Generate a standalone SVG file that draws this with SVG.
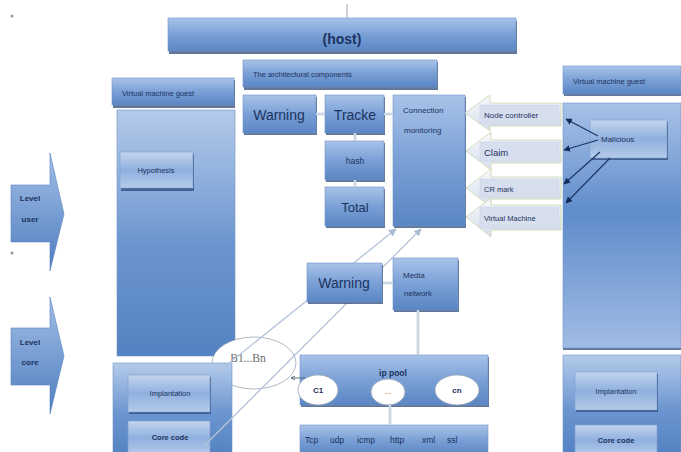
<svg xmlns="http://www.w3.org/2000/svg" width="681" height="452" viewBox="0 0 681 452">
<defs>
<linearGradient id="gBox" x1="0" y1="0" x2="0" y2="1">
<stop offset="0" stop-color="#a9c3e8"/><stop offset="0.5" stop-color="#7aa0d6"/><stop offset="1" stop-color="#5a86c4"/>
</linearGradient>
<linearGradient id="gTallL" x1="0" y1="0" x2="0" y2="1">
<stop offset="0" stop-color="#b4cbea"/><stop offset="0.55" stop-color="#6b95cf"/><stop offset="1" stop-color="#5482c2"/>
</linearGradient>
<linearGradient id="gTallR" x1="0" y1="0" x2="0" y2="1">
<stop offset="0" stop-color="#a8c2e7"/><stop offset="0.45" stop-color="#5f8ccb"/><stop offset="1" stop-color="#a1bce4"/>
</linearGradient>
<linearGradient id="gInner" x1="0" y1="0" x2="0" y2="1">
<stop offset="0" stop-color="#c3d5ee"/><stop offset="0.5" stop-color="#8fb0de"/><stop offset="1" stop-color="#b5cbea"/>
</linearGradient>
<linearGradient id="gPale" x1="0" y1="0" x2="0" y2="1">
<stop offset="0" stop-color="#f6f8fb"/><stop offset="1" stop-color="#d6dfed"/>
</linearGradient>
<linearGradient id="gLevel" x1="0" y1="0" x2="0" y2="1">
<stop offset="0" stop-color="#a2bfe6"/><stop offset="1" stop-color="#4f7ec0"/>
</linearGradient>
<marker id="mDark" viewBox="0 0 10 10" refX="9" refY="5" markerWidth="6" markerHeight="6" orient="auto">
<path d="M0,0 L10,5 L0,10 z" fill="#132b57"/>
</marker>
<marker id="mPale" viewBox="0 0 10 10" refX="9" refY="5" markerWidth="6" markerHeight="6" orient="auto">
<path d="M0,0 L10,5 L0,10 z" fill="#a9bcd6"/>
</marker>
<marker id="mGrey" viewBox="0 0 10 10" refX="9" refY="5" markerWidth="6" markerHeight="6" orient="auto">
<path d="M0,1 L10,5 L0,9" fill="none" stroke="#3c4c66" stroke-width="1.5"/>
</marker>
</defs>
<style>
.box{fill:url(#gBox);stroke:#6f93c7;stroke-width:0.6}
.tallL{fill:url(#gTallL);stroke:#6f93c7;stroke-width:0.6}
.tallR{fill:url(#gTallR);stroke:#6f93c7;stroke-width:0.6}
.inner{fill:url(#gInner);stroke:#7f9fcf;stroke-width:0.6}
.shadow{fill:#2e4a78;opacity:0.75}
.pale{fill:url(#gPale);stroke:#c9d8a8;stroke-width:0.8}
.paleLbl{fill:#d7deee;stroke:#c6cfe3;stroke-width:0.5}
.level{fill:url(#gLevel);stroke:#5a84c0;stroke-width:0.6}
.ell{fill:#ffffff;stroke:#9aa7b8;stroke-width:0.8}
.t{font-family:"Liberation Sans",Arial,sans-serif;fill:#1c3360}
.c{text-anchor:middle}
.b{font-weight:bold}
.link{stroke:#b7c6db;stroke-width:2.5;fill:none}
.linkIn{stroke:#eef2f8;stroke-width:0.8;fill:none}
.diag{stroke:#b3c3d9;stroke-width:1.3;fill:none}
.dark{stroke:#1a3466;stroke-width:1.1;fill:none}
</style>

<circle cx="12" cy="16" r="1.5" fill="#9a9a9a"/>
<circle cx="12" cy="253" r="1.5" fill="#9a9a9a"/>
<line x1="347" y1="4" x2="347" y2="18" stroke="#9aa4b4" stroke-width="1"/>

<g id="host">
<rect class="shadow" x="169" y="21" width="348" height="33"/>
<rect class="box" x="168" y="18" width="348" height="33"/>
<text class="t c b" x="342" y="44" font-size="14">(host)</text>
</g>

<g id="arch">
<rect class="shadow" x="244" y="62" width="194" height="28"/>
<rect class="box" x="243" y="60" width="194" height="27"/>
<text class="t" x="253" y="77" font-size="7.5">The architectural components</text>
</g>

<g id="vmguest-left">
<rect class="shadow" x="113" y="80" width="122" height="28"/>
<rect class="box" x="112" y="78" width="122" height="27"/>
<text class="t" x="122" y="96" font-size="7.5">Virtual machine guest</text>
</g>

<g id="vm-left">
<rect class="tallL" x="117" y="110" width="118" height="246"/>
<rect class="shadow" x="121" y="154" width="73" height="37"/>
<rect class="inner" x="120" y="152" width="73" height="36"/>
<text class="t c" x="156" y="173" font-size="7.5">Hypothesis</text>
</g>

<g id="warning1">
<rect class="shadow" x="244" y="97" width="73" height="38"/>
<rect class="box" x="243" y="95" width="73" height="38"/>
<text class="t c" x="279" y="120" font-size="14">Warning</text>
</g>

<g id="tracke">
<rect class="shadow" x="326" y="97" width="59" height="38"/>
<rect class="box" x="325" y="95" width="59" height="38"/>
<text class="t c" x="355" y="120" font-size="14">Tracke</text>
</g>

<g id="hash">
<rect class="shadow" x="326" y="143" width="59" height="39"/>
<rect class="box" x="325" y="141" width="59" height="39"/>
<text class="t c" x="355" y="164" font-size="8.5">hash</text>
</g>

<g id="total">
<rect class="shadow" x="326" y="189" width="59" height="39"/>
<rect class="box" x="325" y="187" width="59" height="39"/>
<text class="t c" x="355" y="212" font-size="13">Total</text>
</g>

<g id="monitoring">
<rect class="shadow" x="394" y="97" width="72" height="131"/>
<rect class="box" x="393" y="95" width="72" height="131"/>
<text class="t" x="403" y="113" font-size="8">Connection</text>
<text class="t" x="404" y="133" font-size="8">monitoring</text>
</g>

<g id="node-controller">
<polygon class="pale" points="465,113 490,95 490,103 561,103 561,126 490,126 490,131"/>
<rect class="paleLbl" x="480" y="105" width="79" height="19"/>
<text class="t" x="484" y="118" font-size="8">Node controller</text>
</g>

<g id="claim">
<polygon class="pale" points="466,151 491,132 491,140 561,140 561,163 491,163 491,170"/>
<rect class="paleLbl" x="480" y="142" width="79" height="19"/>
<text class="t" x="484" y="156" font-size="9.5">Claim</text>
</g>

<g id="cr-mark">
<polygon class="pale" points="466,188 491,169 491,177 561,177 561,199 491,199 491,207"/>
<rect class="paleLbl" x="480" y="179" width="79" height="18"/>
<text class="t" x="484" y="192" font-size="7.5">CR mark</text>
</g>

<g id="virtual-machine">
<polygon class="pale" points="466,217 491,198 491,205 561,205 561,230 491,230 491,237"/>
<rect class="paleLbl" x="480" y="207" width="79" height="21"/>
<text class="t" x="484" y="221" font-size="7.5">Virtual Machine</text>
</g>

<g id="vmguest-right">
<rect class="shadow" x="564" y="68" width="117" height="28"/>
<rect class="box" x="563" y="66" width="118" height="28"/>
<text class="t" x="573" y="84" font-size="7.5">Virtual machine guest</text>
</g>

<g id="vm-right">
<rect class="shadow" x="563" y="105" width="118" height="245"/>
<rect class="tallR" x="563" y="103" width="118" height="245"/>
<rect class="shadow" x="591" y="122" width="77" height="38"/>
<rect class="inner" x="590" y="120" width="77" height="38"/>
<text class="t" x="601" y="142" font-size="8">Malicious</text>
</g>

<g id="level-user">
<polygon class="level" points="11,185 50,185 50,153 64,214 50,271 50,242 11,242"/>
<text class="t c b" x="30" y="201" font-size="8">Level</text>
<text class="t c b" x="30" y="222" font-size="8">user</text>
</g>

<g id="level-core">
<polygon class="level" points="11,328 50,328 50,297 64,356 50,414 50,385 11,385"/>
<text class="t c b" x="30" y="345" font-size="8">Level</text>
<text class="t c b" x="30" y="365" font-size="8">core</text>
</g>

<g id="media-network">
<rect class="shadow" x="394" y="260" width="65" height="52"/>
<rect class="box" x="393" y="258" width="65" height="52"/>
<text class="t" x="403" y="278" font-size="8">Media</text>
<text class="t" x="404" y="296" font-size="8">network</text>
</g>

<g id="ip-pool">
<rect class="shadow" x="301" y="357" width="188" height="50"/>
<rect class="box" x="300" y="355" width="188" height="50"/>
<text class="t c b" x="393" y="376" font-size="8.5">ip pool</text>
<ellipse class="ell" cx="318" cy="390" rx="20" ry="15"/>
<text class="t c b" x="318" y="393" font-size="8">C1</text>
<ellipse class="ell" cx="388" cy="392" rx="17" ry="13"/>
<text class="t c b" x="388" y="394" font-size="8" style="fill:#e0a060">...</text>
<ellipse class="ell" cx="457" cy="390" rx="22" ry="15"/>
<text class="t c b" x="457" y="393" font-size="8">cn</text>
</g>

<g id="b1-bn">
<ellipse class="ell" cx="254" cy="363" rx="42" ry="26"/>
<text x="248" y="362" font-size="11.5" text-anchor="middle" font-family="Liberation Serif, serif" fill="#6a6a6a">B1...Bn</text>
</g>

<g id="protocols">
<rect class="box" x="300" y="425" width="188" height="30"/>
<text class="t" y="443" font-size="8.5"><tspan x="305">Tcp</tspan><tspan x="330">udp</tspan><tspan x="357">icmp</tspan><tspan x="390">http</tspan><tspan x="422">xml</tspan><tspan x="447">ssl</tspan></text>
</g>

<g id="core-left">
<rect class="tallL" x="113" y="363" width="119" height="92"/>
<rect class="shadow" x="129" y="377" width="82" height="37"/>
<rect class="inner" x="128" y="375" width="82" height="37"/>
<text class="t c" x="170" y="396" font-size="7.5">Implantation</text>
<rect class="inner" x="128" y="421" width="82" height="34"/>
<text class="t c b" x="170" y="440" font-size="7.5">Core code</text>
</g>

<g id="core-right">
<rect class="tallL" x="563" y="355" width="118" height="100"/>
<rect class="shadow" x="576" y="374" width="82" height="38"/>
<rect class="inner" x="575" y="372" width="82" height="38"/>
<text class="t c" x="616" y="394" font-size="7.5">Implantation</text>
<rect class="inner" x="575" y="425" width="82" height="30"/>
<text class="t c b" x="616" y="443" font-size="7.5">Core code</text>
</g>

<g id="connectors">
<line class="link" x1="316" y1="114" x2="325" y2="114"/><line class="linkIn" x1="316" y1="114" x2="325" y2="114"/>
<line class="link" x1="384" y1="114" x2="393" y2="114"/><line class="linkIn" x1="384" y1="114" x2="393" y2="114"/>
<line class="link" x1="355" y1="133" x2="355" y2="141"/><line class="linkIn" x1="355" y1="133" x2="355" y2="141"/>
<line class="link" x1="355" y1="180" x2="355" y2="187"/><line class="linkIn" x1="355" y1="180" x2="355" y2="187"/>
<line class="link" x1="382" y1="283" x2="393" y2="283"/><line class="linkIn" x1="382" y1="283" x2="393" y2="283"/>
<line class="link" x1="418" y1="310" x2="418" y2="355"/><line class="linkIn" x1="418" y1="310" x2="418" y2="355"/>
<line class="link" x1="390" y1="405" x2="390" y2="425"/><line class="linkIn" x1="390" y1="405" x2="390" y2="425"/>
<line class="diag" x1="218" y1="372" x2="396" y2="229" marker-end="url(#mPale)"/>
<line class="diag" x1="204" y1="446" x2="421" y2="229" marker-end="url(#mPale)"/>
<line x1="305" y1="378" x2="291" y2="378" stroke="#3c4c66" stroke-width="0.8" marker-end="url(#mGrey)"/>
<line class="dark" x1="598" y1="136" x2="566" y2="119" marker-end="url(#mDark)"/>
<line class="dark" x1="598" y1="140" x2="564" y2="150" marker-end="url(#mDark)"/>
<line class="dark" x1="600" y1="152" x2="564" y2="184" marker-end="url(#mDark)"/>
<line class="dark" x1="610" y1="158" x2="566" y2="203" marker-end="url(#mDark)"/>
</g>

<g id="warning2">
<rect class="shadow" x="308" y="265" width="75" height="39"/>
<rect class="box" x="307" y="263" width="75" height="39"/>
<text class="t c" x="344" y="288" font-size="14">Warning</text>
</g>
</svg>
